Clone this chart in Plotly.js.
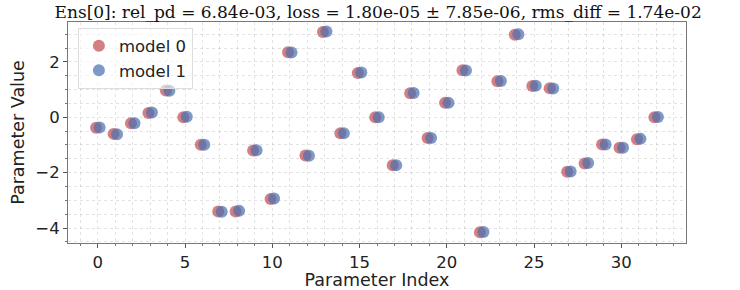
<!DOCTYPE html>
<html>
<head>
<meta charset="utf-8">
<script src="https://cdn.plot.ly/plotly-3.0.1.min.js"></script>
<style>html,body{margin:0;padding:0;background:#fff;}#chart{width:740px;height:290px;}</style>
</head>
<body>
<div id="chart"></div>
<script>
const paramIndex = [0,1,2,3,4,5,6,7,8,9,10,11,12,13,14,15,16,17,18,19,20,21,22,23,24,25,26,27,28,29,30,31,32];
const model0 = [-0.38,-0.60,-0.22,0.15,0.97,0.00,-0.99,-3.40,-3.40,-1.20,-2.95,2.35,-1.38,3.08,-0.58,1.60,0.00,-1.73,0.87,-0.75,0.52,1.70,-4.15,1.30,2.98,1.13,1.05,-1.97,-1.67,-0.98,-1.10,-0.79,0.00];
const model1 = [-0.37,-0.61,-0.22,0.17,0.96,0.02,-0.99,-3.41,-3.38,-1.19,-2.93,2.34,-1.39,3.10,-0.58,1.62,0.00,-1.73,0.88,-0.75,0.52,1.69,-4.14,1.31,3.00,1.14,1.04,-1.96,-1.65,-0.98,-1.10,-0.78,0.01];
const seriesNames = ["model 0","model 1"];
const offsets = [-0.1, 0.1];
const titleText = "Ens[0]: rel_pd = 6.84e-03, loss = 1.80e-05 \u00b1 7.85e-06, rms_diff = 1.74e-02";

const colors = ["rgba(196,78,82,0.72)","rgba(76,114,176,0.72)"];
const traces = [model0, model1].map((vals, k) => ({
  type: "scatter", mode: "markers", name: seriesNames[k],
  x: paramIndex.map(i => i + offsets[k]), y: vals,
  marker: {size: 12, color: colors[k], line: {width: 0}}
}));

const gridCol = "rgba(0,0,0,0.11)";
const layout = {
  width: 740, height: 290,
  margin: {l: 68, r: 54, t: 22, b: 47},
  paper_bgcolor: "#fff", plot_bgcolor: "#fff",
  title: {text: titleText, font: {family: "DejaVu Serif", size: 17, color: "#111"}, x: 0.511, xanchor: "center", yref: "container", y: 0.958, yanchor: "middle"},
  font: {family: "DejaVu Sans", color: "#222"},
  showlegend: true,
  legend: {x: 0.016, y: 0.975, xanchor: "left", yanchor: "top", bgcolor: "rgba(255,255,255,0.6)", bordercolor: "#ddd", borderwidth: 1, font: {size: 16.5, family: "DejaVu Sans", color: "#222"}, itemsizing: "constant", tracegroupgap: 0},
  xaxis: {
    range: [-1.71, 33.71], tickmode: "linear", tick0: 0, dtick: 5,
    ticks: "outside", ticklen: 4, tickcolor: "#555", tickfont: {size: 16.5, color: "#222"},
    showgrid: true, gridcolor: gridCol, griddash: "dot", gridwidth: 1,
    minor: {dtick: 1, showgrid: true, gridcolor: gridCol, griddash: "dot", ticks: "outside", ticklen: 2, tickcolor: "#777"},
    showline: true, mirror: true, linecolor: "#777", linewidth: 1, zeroline: false,
    title: {text: "Parameter Index", font: {size: 17.5, color: "#222"}, standoff: 6}
  },
  yaxis: {
    range: [-4.54, 3.44], tickmode: "linear", tick0: 0, dtick: 2,
    ticks: "outside", ticklen: 4, tickcolor: "#555", tickfont: {size: 16.5, color: "#222"},
    showgrid: true, gridcolor: gridCol, griddash: "dot", gridwidth: 1,
    minor: {dtick: 0.5, showgrid: true, gridcolor: gridCol, griddash: "dot", ticks: "outside", ticklen: 2, tickcolor: "#777"},
    showline: true, mirror: true, linecolor: "#777", linewidth: 1, zeroline: false,
    title: {text: "Parameter Value", font: {size: 17.5, color: "#222"}, standoff: 6}
  }
};
Plotly.newPlot("chart", traces, layout, {displayModeBar: false, staticPlot: true});
</script>
</body>
</html>
